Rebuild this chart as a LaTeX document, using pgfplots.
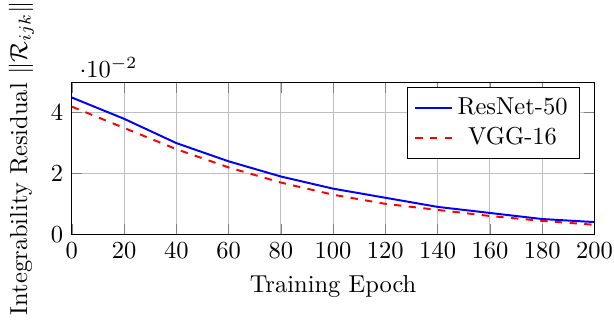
\documentclass[border=0pt]{standalone}
\usepackage{pgfplots}
\pgfplotsset{compat=1.18}
\begin{document}
\begin{tikzpicture}
\begin{axis}[
  scale only axis,
  width=213.3pt, height=62pt,
  xmin=0, xmax=200, ymin=0, ymax=0.05,
  xtick={0,20,...,200},
  ytick={0,0.02,0.04},
  grid=major,
  xlabel={Training Epoch},
  ylabel={Integrability Residual $\|\mathcal{R}_{ijk}\|$},
  legend style={at={(0.973,0.969)}, anchor=north east},
  legend cell align=center,
  legend image code/.code={\draw[mark repeat=2,mark phase=2] plot coordinates {(0cm,0cm) (0.26cm,0cm) (0.52cm,0cm)};},
]
\addplot[color=blue, thick] coordinates {
(0,0.045) (20,0.038) (40,0.030) (60,0.024) (80,0.019) (100,0.015) (120,0.012) (140,0.009) (160,0.007) (180,0.005) (200,0.004)};
\addlegendentry{ResNet-50}
\addplot[color=red, thick, dashed] coordinates {
(0,0.042) (20,0.035) (40,0.028) (60,0.022) (80,0.017) (100,0.013) (120,0.010) (140,0.008) (160,0.006) (180,0.0044) (200,0.0031)};
\addlegendentry{VGG-16}
\end{axis}
\pgfresetboundingbox
\path[use as bounding box] ([shift={(-29.3pt,-36.6pt)}]current axis.south west) rectangle ([shift={(8pt,33.6pt)}]current axis.north east);
\end{tikzpicture}
\end{document}
